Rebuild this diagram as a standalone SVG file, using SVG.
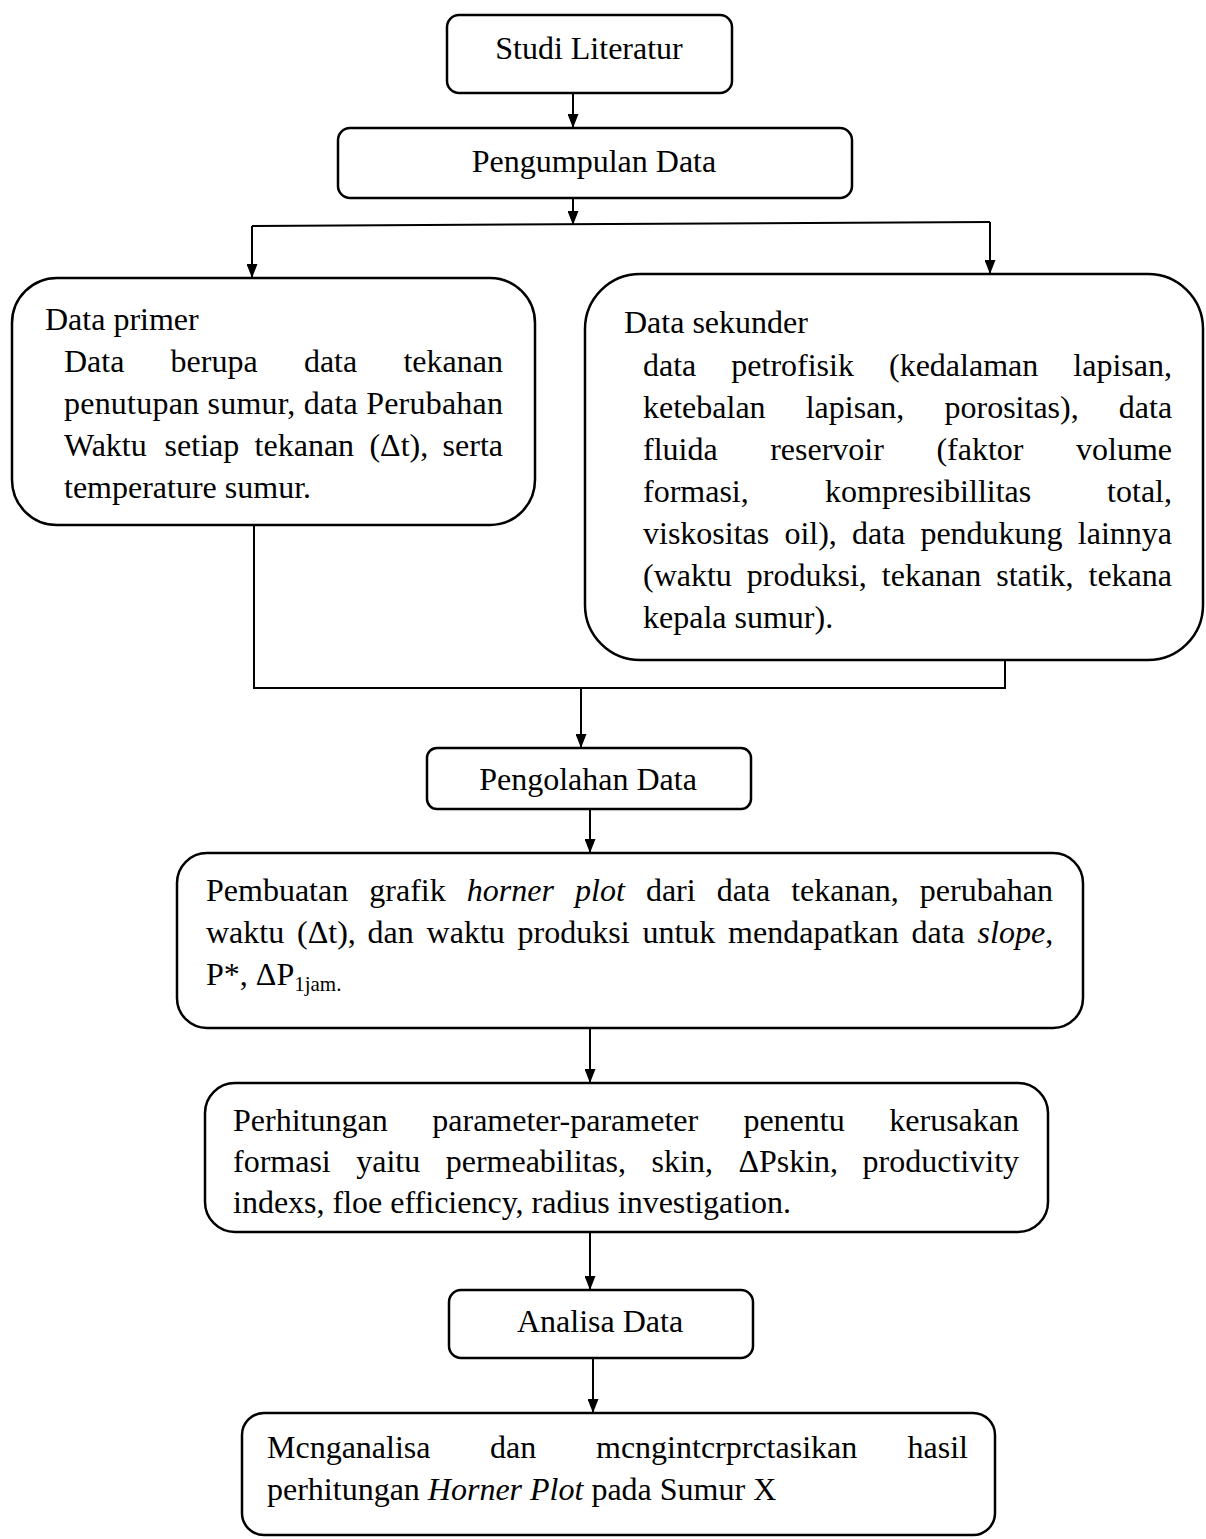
<svg xmlns="http://www.w3.org/2000/svg" width="1206" height="1539" viewBox="0 0 1206 1539">
<style>
.box{fill:#fff;stroke:#000;stroke-width:2.5}
.t{font-family:"Liberation Serif","Times New Roman",serif;font-size:32px;fill:#000}
.c{text-anchor:middle}
.i{font-style:italic}
.conn{stroke:#000;stroke-width:2;fill:none}
</style>
<defs>
<marker id="ah" viewBox="0 0 14 11" refX="14" refY="5.5" markerWidth="14" markerHeight="11" markerUnits="userSpaceOnUse" orient="auto">
<path d="M0,0 L14,5.5 L0,11 z" fill="#000"/>
</marker>
</defs>
<rect width="1206" height="1539" fill="#fff"/>

<g id="connectors">
<path class="conn" d="M573,93 V128" marker-end="url(#ah)"/>
<path class="conn" d="M573,198 V225" marker-end="url(#ah)"/>
<path class="conn" d="M252,226 L990,222"/>
<path class="conn" d="M252,226 V278" marker-end="url(#ah)"/>
<path class="conn" d="M990,222 V274" marker-end="url(#ah)"/>
<path class="conn" d="M254,525 V688 H1005 V660"/>
<path class="conn" d="M581,688 V748" marker-end="url(#ah)"/>
<path class="conn" d="M590,809 V853" marker-end="url(#ah)"/>
<path class="conn" d="M590,1028 V1083" marker-end="url(#ah)"/>
<path class="conn" d="M590,1232 V1290" marker-end="url(#ah)"/>
<path class="conn" d="M593,1358 V1413" marker-end="url(#ah)"/>
</g>

<g id="studi">
<rect class="box" x="447" y="15" width="285" height="78" rx="12"/>
<text class="t c" x="589" y="59">Studi Literatur</text>
</g>

<g id="pengumpulan">
<rect class="box" x="338" y="128" width="514" height="70" rx="12"/>
<text class="t c" x="594" y="172">Pengumpulan Data</text>
</g>

<g id="primer">
<rect class="box" x="12" y="278" width="523" height="247" rx="45"/>
<text class="t" x="45" y="330">Data primer</text>
<text class="t" y="372"><tspan x="64">Data</tspan><tspan x="170.6">berupa</tspan><tspan x="303.9">data</tspan><tspan x="403.4">tekanan</tspan></text>
<text class="t" x="64" y="414" textLength="439" lengthAdjust="spacing">penutupan sumur, data Perubahan</text>
<text class="t" y="456"><tspan x="64">Waktu</tspan><tspan x="164.6">setiap</tspan><tspan x="254.6">tekanan</tspan><tspan x="369.4">(Δt),</tspan><tspan x="442.6">serta</tspan></text>
<text class="t" x="64" y="498">temperature sumur.</text>
</g>

<g id="sekunder">
<rect class="box" x="585" y="274" width="618" height="386" rx="55"/>
<text class="t" x="624" y="333">Data sekunder</text>
<text class="t" y="376"><tspan x="643">data</tspan><tspan x="731.3">petrofisik</tspan><tspan x="889">(kedalaman</tspan><tspan x="1073.3">lapisan,</tspan></text>
<text class="t" y="418"><tspan x="643">ketebalan</tspan><tspan x="805.7">lapisan,</tspan><tspan x="944.5">porositas),</tspan><tspan x="1118.8">data</tspan></text>
<text class="t" y="460"><tspan x="643">fluida</tspan><tspan x="770.2">reservoir</tspan><tspan x="936.4">(faktor</tspan><tspan x="1076">volume</tspan></text>
<text class="t" y="502"><tspan x="643">formasi,</tspan><tspan x="825">kompresibillitas</tspan><tspan x="1107.1">total,</tspan></text>
<text class="t" y="544"><tspan x="643">viskositas</tspan><tspan x="784.4">oil),</tspan><tspan x="852">data</tspan><tspan x="920.4">pendukung</tspan><tspan x="1077.8">lainnya</tspan></text>
<text class="t" y="586"><tspan x="643">(waktu</tspan><tspan x="746.8">produksi,</tspan><tspan x="881.8">tekanan</tspan><tspan x="996.2">statik,</tspan><tspan x="1088.5">tekana</tspan></text>
<text class="t" x="643" y="628">kepala sumur).</text>
</g>

<g id="pengolahan">
<rect class="box" x="427" y="748" width="324" height="61" rx="10"/>
<text class="t c" x="588" y="790">Pengolahan Data</text>
</g>

<g id="horner">
<rect class="box" x="177" y="853" width="906" height="175" rx="30"/>
<text class="t" y="901"><tspan x="206">Pembuatan</tspan><tspan x="369.3">grafik</tspan><tspan class="i" x="466.8">horner</tspan><tspan class="i" x="575">plot</tspan><tspan x="645.9">dari</tspan><tspan x="716.8">data</tspan><tspan x="791.2">tekanan,</tspan><tspan x="919.8">perubahan</tspan></text>
<text class="t" y="943"><tspan x="206">waktu</tspan><tspan x="297">(Δt),</tspan><tspan x="367.6">dan</tspan><tspan x="426.6">waktu</tspan><tspan x="517.6">produksi</tspan><tspan x="642.4">untuk</tspan><tspan x="728.1">mendapatkan</tspan><tspan x="911.5">data</tspan><tspan class="i" x="977.6">slope</tspan><tspan>,</tspan></text>
<text class="t" x="206" y="985">P*, ΔP<tspan font-size="21" dy="6">1jam.</tspan></text>
</g>

<g id="perhitungan">
<rect class="box" x="205" y="1083" width="843" height="149" rx="30"/>
<text class="t" y="1131"><tspan x="233">Perhitungan</tspan><tspan x="432.3">parameter-parameter</tspan><tspan x="743.4">penentu</tspan><tspan x="889.3">kerusakan</tspan></text>
<text class="t" y="1172"><tspan x="233">formasi</tspan><tspan x="356.2">yaitu</tspan><tspan x="445.7">permeabilitas,</tspan><tspan x="651.6">skin,</tspan><tspan x="738.4">ΔPskin,</tspan><tspan x="862.6">productivity</tspan></text>
<text class="t" x="233" y="1213">indexs, floe efficiency, radius investigation.</text>
</g>

<g id="analisa">
<rect class="box" x="449" y="1290" width="304" height="68" rx="12"/>
<text class="t c" x="600" y="1332">Analisa Data</text>
</g>

<g id="menganalisa">
<rect class="box" x="242" y="1413" width="753" height="122" rx="22"/>
<text class="t" y="1458"><tspan x="267">Mcnganalisa</tspan><tspan x="490">dan</tspan><tspan x="596">mcngintcrprctasikan</tspan><tspan x="907.5">hasil</tspan></text>
<text class="t" x="267" y="1500">perhitungan <tspan class="i">Horner Plot</tspan> pada Sumur X</text>
</g>
</svg>
